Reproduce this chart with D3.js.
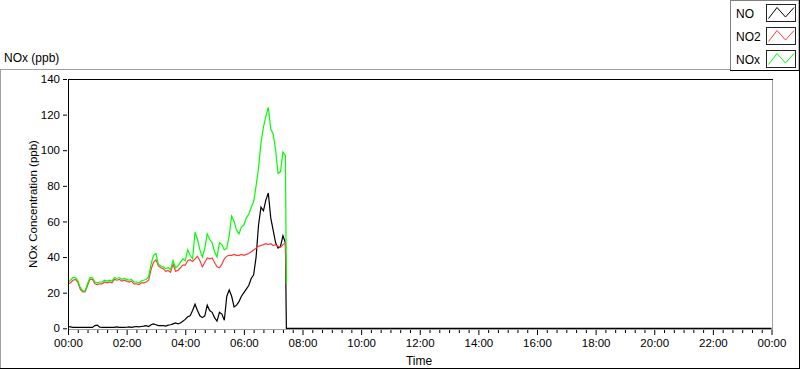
<!DOCTYPE html>
<html><head><meta charset="utf-8">
<script src="https://cdn.jsdelivr.net/npm/d3@7"></script>
<style>
html,body{margin:0;padding:0;background:#fff;}
svg{display:block;font-family:"Liberation Sans",Arial,sans-serif;}
</style></head>
<body><svg id="c" width="800" height="369"></svg>
<script>
// time in minutes after 00:00
const times = [0,5,10,15,20,25,30,35,40,45,
  50,55,60,65,70,75,80,85,90,95,
  100,105,110,115,120,125,130,135,140,145,
  150,155,160,165,170,175,180,185,190,195,
  200,205,210,215,220,225,230,235,240,245,
  250,255,260,265,270,275,280,285,290,295,
  300,305,310,315,320,325,330,335,340,345,
  350,355,360,365,370,375,380,385,390,395,
  400,405,410,415,420,425,430,435,440,445,
  447,1440];
const no = [1,0.8,0.5,0.5,0.5,0.5,0.5,0.5,0.5,0.5,
  0.5,1.5,1.8,0.6,0.5,0.5,0.5,0.5,0.5,0.5,
  0.8,0.5,0.5,0.5,0.6,0.8,0.5,0.8,1,0.8,
  1,1.2,1.5,1,2,2.5,2,1.5,1.5,1.5,
  1.2,1.8,2,2.5,3,2.5,3,4,5,6.5,
  7,10,13.5,10,7,6,7,13,10,9,
  6,4,9,8,4.5,18,21.5,18,12,13,
  15,18,20,22,24,28,30,40,58,68,
  66,72,76,62,55,48,45,46,52,48,
  0,0];
const no2 = [25,25.5,27,27.5,26,22,20.5,20.5,24,27.5,
  27.5,25,24.5,25,25,26,25.5,26,25.5,27.5,
  27,27.5,26.5,27,26.5,26,26.5,25,25,24.5,
  25.5,25.5,26,27,33,37,38.5,35,34,33.5,
  32,32.5,31.5,36,32,32.5,34,35.5,35.5,38,
  38.5,37.5,39,40.5,38,34.5,37,39.5,39,39.5,
  37,34.5,34,36,39,40.5,41,41,41.5,41,
  41,41.5,41,41.5,42,43,44,45,46,46.5,
  47,47.5,47,47.5,46.5,47,46,45.5,47,48,
  25,null];
const nox = [26,27,28.5,28.5,27,23,21,21,25,28.5,
  28.5,26,25.5,26,26,27,26.5,27,26.5,28.5,
  28,28.5,27.5,28,27.5,27,27.5,26,26,25.5,
  26.5,27,27.5,29,36,41,42,36,35,34.5,
  33.5,34,33,38,34,35,37,39,38,44,
  41,39,54,50,44,40,45,53,50,48,
  43,40,48,47,44,45,52,63,60,55,
  53,57,58,62,64,68,71,80,90,104,
  113,119,124,112,109,100,87,88,99,97,
  25,null];
const seriesNames = ["NO","NO2","NOx"];
const seriesColors = ["#000000","#ff3b3b","#00ff00"];
const yTicks = [0,20,40,60,80,100,120,140];
const xMajor = [0,120,240,360,480,600,720,840,960,1080,1200,1320,1440];

const svg = d3.select("#c");
const L=68, T=79, R=772, B=329;
const x = d3.scaleLinear().domain([0,1440]).range([68,771.5]);
const y = d3.scaleLinear().domain([0,140]).range([328.3,79]);

// outer frame
svg.append("line").attr("x1",0).attr("x2",730).attr("y1",69.5).attr("y2",69.5).attr("stroke","#a0a0a0");
svg.append("line").attr("x1",0.5).attr("x2",0.5).attr("y1",69.5).attr("y2",368).attr("stroke","#a0a0a0");
svg.append("line").attr("x1",0).attr("x2",799).attr("y1",368.5).attr("y2",368.5).attr("stroke","#000");
svg.append("line").attr("x1",799.5).attr("x2",799.5).attr("y1",69).attr("y2",369).attr("stroke","#000");

svg.append("text").attr("x",4).attr("y",62).attr("font-size",12).attr("fill","#000").text("NOx (ppb)");

// plot area border
svg.append("rect").attr("x",L).attr("y",T).attr("width",R-L).attr("height",B-T).attr("fill","#fff");
svg.append("line").attr("x1",R+0.5).attr("x2",R+0.5).attr("y1",T).attr("y2",B+1).attr("stroke","#a0a0a0");
svg.append("line").attr("x1",L).attr("x2",R+1).attr("y1",B+0.5).attr("y2",B+0.5).attr("stroke","#a0a0a0");
svg.append("line").attr("x1",L+0.5).attr("x2",L+0.5).attr("y1",T).attr("y2",B+1).attr("stroke","#000");
svg.append("line").attr("x1",L).attr("x2",R+1).attr("y1",T+0.5).attr("y2",T+0.5).attr("stroke","#000");

// y axis
const ya = svg.append("g").attr("transform","translate(67,0)")
  .call(d3.axisLeft(y).tickValues(yTicks).tickSize(4).tickPadding(3));
ya.select(".domain").remove();
ya.selectAll("text").attr("font-size",11.5).attr("fill","#000").attr("font-family","Liberation Sans, Arial, sans-serif");
ya.selectAll("line").attr("stroke","#000");

// x axis
const fmt = m => { const h = Math.floor(m/60)%24, mm = m%60; return String(h).padStart(2,"0")+":"+String(mm).padStart(2,"0"); };
const minor = d3.range(0,1441,20).filter(m => m%120 !== 0);
const xm = svg.append("g").attr("transform","translate(0,330)")
  .call(d3.axisBottom(x).tickValues(minor).tickSize(3).tickFormat(""));
xm.select(".domain").remove();
xm.selectAll("line").attr("stroke","#000");
const xa = svg.append("g").attr("transform","translate(0,330)")
  .call(d3.axisBottom(x).tickValues(xMajor).tickSize(5).tickPadding(4).tickFormat(fmt));
xa.select(".domain").remove();
xa.selectAll("line").attr("stroke","#000");
xa.selectAll("text").attr("font-size",11.5).attr("fill","#000").attr("font-family","Liberation Sans, Arial, sans-serif");

svg.append("text").attr("x",419).attr("y",365).attr("text-anchor","middle").attr("font-size",12).attr("fill","#000").text("Time");
svg.append("text").attr("transform","translate(36.5,204) rotate(-90)").attr("text-anchor","middle")
  .attr("font-size",11.5).attr("fill","#000").text("NOx Concentration (ppb)");

// lines
const clip = svg.append("clipPath").attr("id","pc").append("rect").attr("x",L+1).attr("y",T+1).attr("width",R-L-1).attr("height",B-T-1);
const allSeries = [no, no2, nox];
const line = d3.line().defined(d => d[1] != null).x(d => x(d[0])).y(d => y(d[1])).curve(d3.curveStepAfter);
const line2 = d3.line().defined(d => d[1] != null).x(d => x(d[0])).y(d => y(d[1]));
const g = svg.append("g").attr("clip-path","url(#pc)");
allSeries.forEach((s,i) => {
  const pts = times.map((t,k) => [t, s[k]]);
  g.append("path").attr("d", line2(pts)).attr("fill","none").attr("stroke",seriesColors[i]).attr("stroke-width",1.2);
});

// legend
svg.append("rect").attr("x",730.5).attr("y",0.5).attr("width",68.5).attr("height",70).attr("fill","#fff").attr("stroke","#808080");
svg.append("line").attr("x1",730).attr("x2",800).attr("y1",70.5).attr("y2",70.5).attr("stroke","#000");
svg.append("line").attr("x1",799.5).attr("x2",799.5).attr("y1",0).attr("y2",71).attr("stroke","#000");
const ly = [4, 27, 50];
const lb = [17.5, 40.5, 63.5];
seriesNames.forEach((n,i) => {
  svg.append("text").attr("x",736).attr("y",lb[i]).attr("font-size",12).attr("fill","#000").text(n);
  svg.append("rect").attr("x",766.5).attr("y",ly[i]+0.5).attr("width",29).attr("height",17).attr("fill","#fff").attr("stroke","#222");
  const b = ly[i];
  const zz = [[768.5,b+14.5],[777,b+3.5],[785.5,b+13],[794,b+3.5]];
  svg.append("path").attr("d", d3.line()(zz)).attr("fill","none").attr("stroke",seriesColors[i]).attr("stroke-width",1);
});
</script></body></html>
